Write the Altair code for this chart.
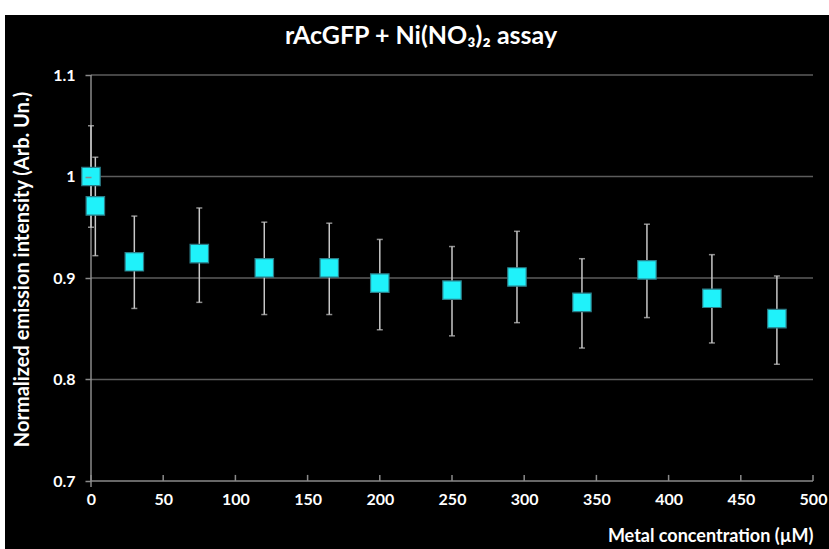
import altair as alt
import pandas as pd

# Ni(NO3)2 titration of rAcGFP: normalized emission vs metal concentration
conc = [0, 3, 30, 75, 120, 165, 200, 250, 295, 340, 385, 430, 475]
intensity = [1.000, 0.971, 0.916, 0.924, 0.910, 0.910, 0.895, 0.888, 0.901, 0.876, 0.908, 0.880, 0.860]
err_low = [0.950, 0.922, 0.870, 0.876, 0.864, 0.864, 0.849, 0.843, 0.856, 0.831, 0.861, 0.836, 0.815]
err_high = [1.050, 1.019, 0.961, 0.969, 0.955, 0.954, 0.938, 0.931, 0.946, 0.919, 0.953, 0.923, 0.902]

x_ticks = [0, 50, 100, 150, 200, 250, 300, 350, 400, 450, 500]
y_ticks = [0.7, 0.8, 0.9, 1.0, 1.1]
grid_lines = [0.8, 0.9, 1.0, 1.1]

FONT = "Lato"
W, H = 722, 406
AXIS_GRAY = "#8a8a8a"

df = pd.DataFrame({"conc": conc, "val": intensity, "lo": err_low, "hi": err_high})
tick_df = pd.DataFrame({"t": x_ticks, "y0": [0.7] * len(x_ticks), "y1": [0.706] * len(x_ticks)})
grid_df = pd.DataFrame({"g": grid_lines})
frame_df = pd.DataFrame({"x0": [0], "x1": [500], "y0": [0.694], "y1": [1.1], "ybase": [0.7]})

x_scale = alt.Scale(domain=[0, 500], nice=False, zero=False)
y_scale = alt.Scale(domain=[0.7, 1.1], nice=False, zero=False)

x_axis = alt.Axis(
    values=x_ticks, ticks=False, grid=False, domain=False, zindex=1,
    labelColor="white", labelFont=FONT, labelFontWeight="bold", labelFontSize=16,
    labelPadding=10, labelFlush=False,
    title="Metal concentration (µM)", titleColor="white", titleFont=FONT,
    titleFontWeight="bold", titleFontSize=18, titleAlign="right", titleBaseline="middle",
    titleX=W, titleY=55,
)
y_axis = alt.Axis(
    values=y_ticks, grid=False, domain=False, zindex=1,
    tickColor=AXIS_GRAY, tickSize=6, tickWidth=1.5,
    labelColor="white", labelFont=FONT, labelFontWeight="bold", labelFontSize=16,
    labelPadding=10,
    labelExpr="datum.value == 1 ? '1' : format(datum.value, '.1f')",
    title="Normalized emission intensity (Arb. Un.)", titleColor="white", titleFont=FONT,
    titleFontWeight="bold", titleFontSize=20, titleAngle=-90, titleAlign="center",
    titleBaseline="middle", titleX=-69, titleY=194,
)

# black panel behind the whole figure
backdrop = alt.Chart(pd.DataFrame({"k": [0]})).mark_rect(color="black").encode(
    x=alt.value(-86), x2=alt.value(W + 20), y=alt.value(-60), y2=alt.value(H + 80)
)

base = alt.Chart(df)

axes_holder = base.mark_point(opacity=0).encode(
    x=alt.X("conc:Q", scale=x_scale, axis=x_axis),
    y=alt.Y("val:Q", scale=y_scale, axis=y_axis),
)

grid = alt.Chart(grid_df).mark_rule(color="#5c5c5c", strokeWidth=1.5).encode(
    y=alt.Y("g:Q", scale=y_scale), x=alt.value(0), x2=alt.value(W)
)

y_domain = alt.Chart(frame_df).mark_rule(color=AXIS_GRAY, strokeWidth=1.5).encode(
    x=alt.X("x0:Q", scale=x_scale), y=alt.Y("y0:Q", scale=y_scale), y2="y1:Q"
)
x_domain = alt.Chart(frame_df).mark_rule(color=AXIS_GRAY, strokeWidth=1.5).encode(
    x=alt.X("x0:Q", scale=x_scale), x2="x1:Q", y=alt.Y("ybase:Q", scale=y_scale)
)

inner_ticks = alt.Chart(tick_df).mark_rule(color=AXIS_GRAY, strokeWidth=1.5).encode(
    x=alt.X("t:Q", scale=x_scale), y=alt.Y("y0:Q", scale=y_scale), y2="y1:Q"
)

err_rules = base.mark_rule(color="#c8c8c8", strokeWidth=1.5).encode(
    x=alt.X("conc:Q", scale=x_scale), y=alt.Y("lo:Q", scale=y_scale), y2="hi:Q"
)
cap_lo = base.mark_tick(color="#c8c8c8", orient="horizontal", size=6, thickness=1.5).encode(
    x=alt.X("conc:Q", scale=x_scale), y=alt.Y("lo:Q", scale=y_scale)
)
cap_hi = base.mark_tick(color="#c8c8c8", orient="horizontal", size=6, thickness=1.5).encode(
    x=alt.X("conc:Q", scale=x_scale), y=alt.Y("hi:Q", scale=y_scale)
)

squares = base.mark_square(
    size=340, filled=True, fill="#1ff2fa", stroke="#2b7d88", strokeWidth=1.2, opacity=1
).encode(
    x=alt.X("conc:Q", scale=x_scale), y=alt.Y("val:Q", scale=y_scale)
)

chart = alt.layer(
    backdrop, axes_holder, grid, y_domain, x_domain, inner_ticks,
    err_rules, cap_lo, cap_hi, squares
).properties(
    width=W, height=H,
    title=alt.TitleParams(
        "rAcGFP + Ni(NO₃)₂ assay", color="white", font=FONT, fontWeight="bold",
        fontSize=25, anchor="middle", dx=-31, offset=-34, zindex=1,
    ),
    autosize=alt.AutoSizeParams(type="none"),
    padding={"left": 91, "top": 75, "right": 16, "bottom": 68},
    background="white",
).configure_view(stroke=None)

chart.save("out.html", embed_options={"renderer": "svg", "actions": False})
